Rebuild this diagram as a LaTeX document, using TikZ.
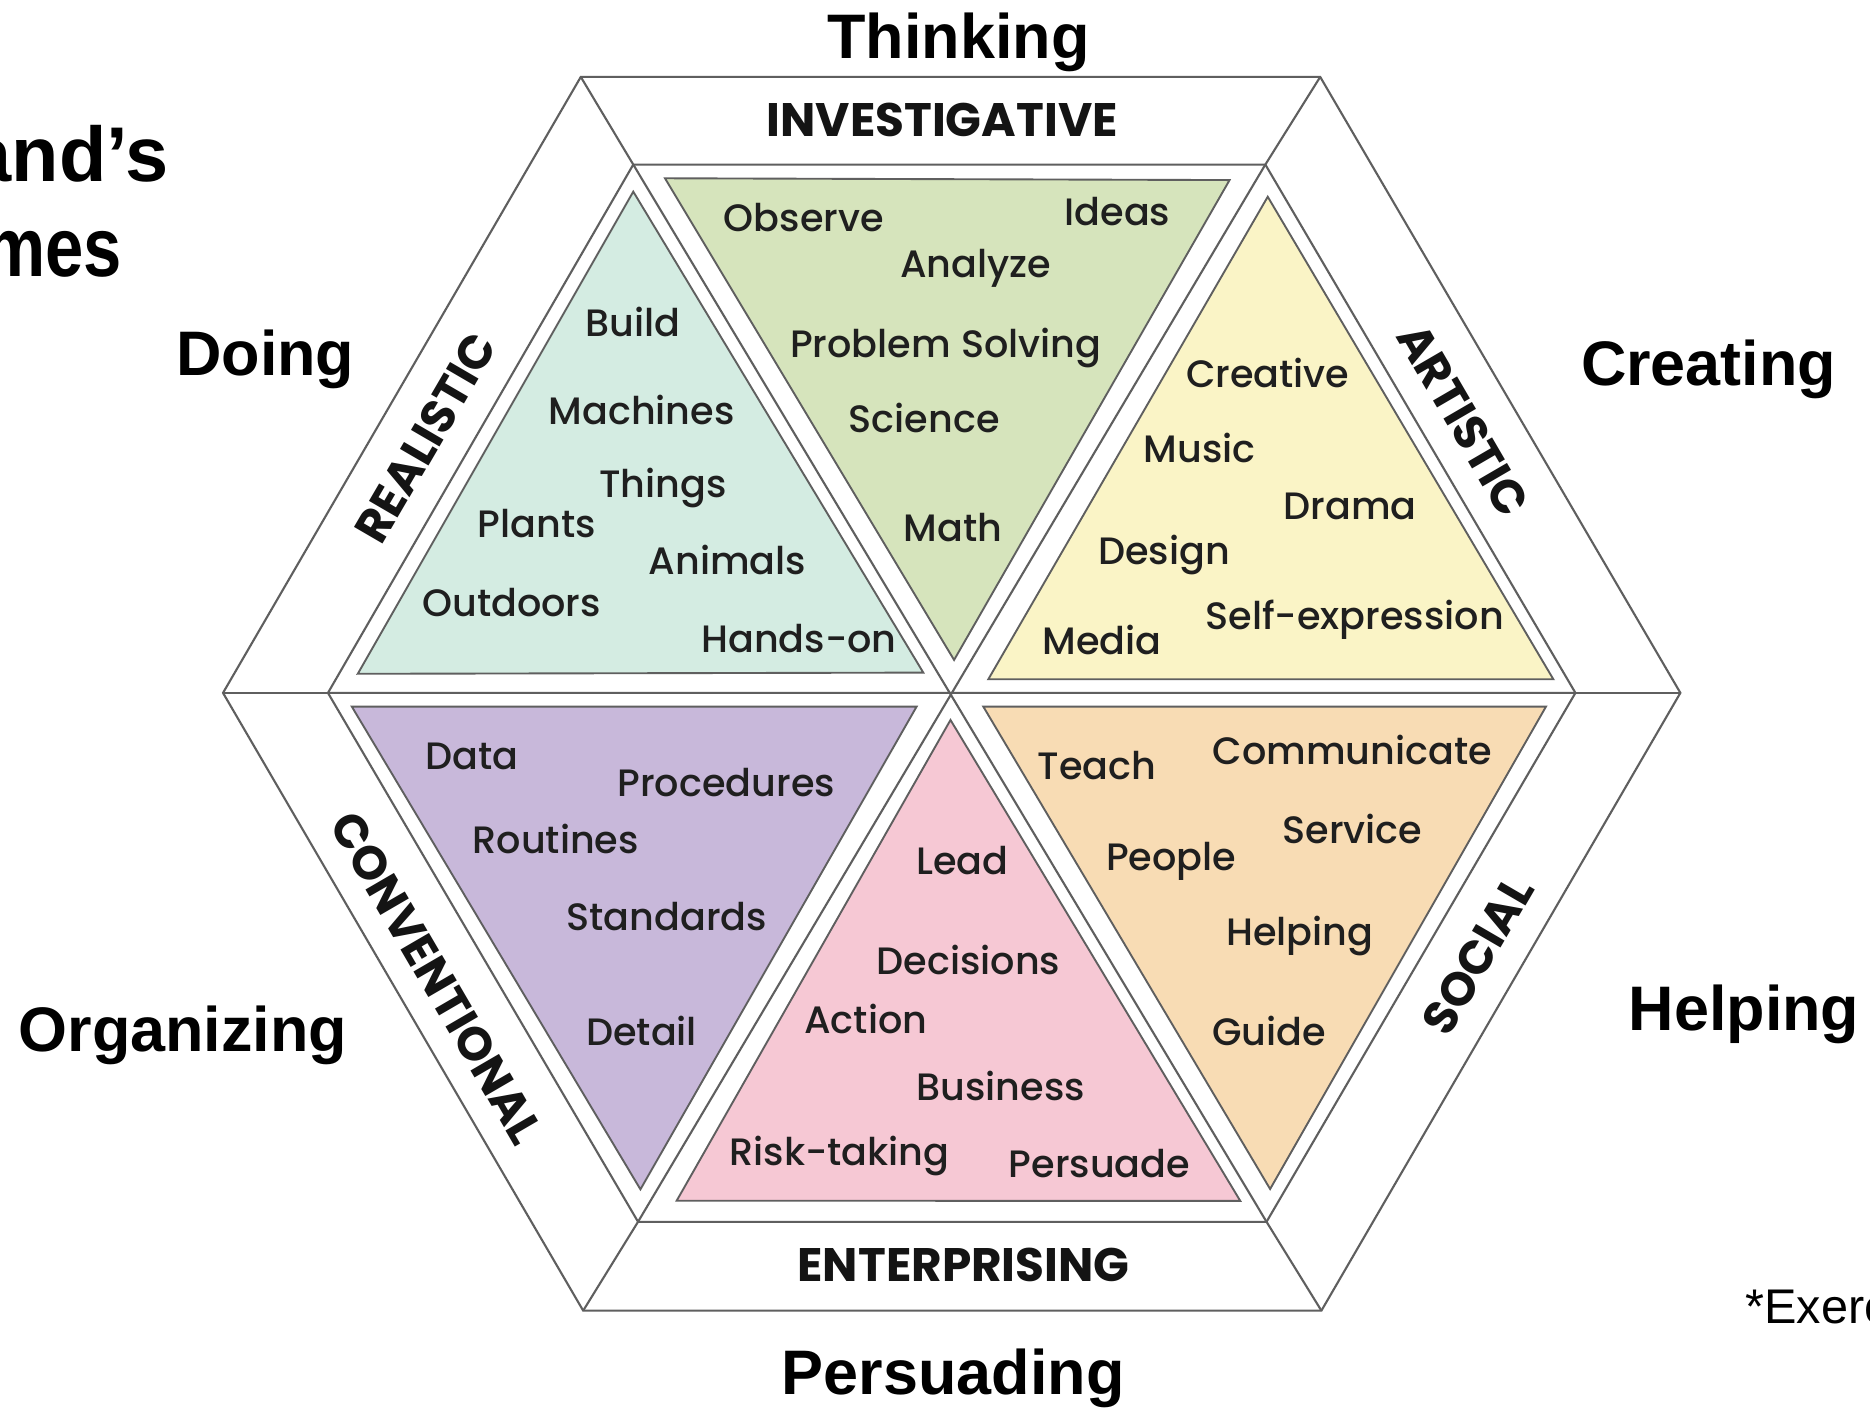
\documentclass[tikz,border=0pt]{standalone}
\usepackage{fontspec}
\setmainfont{Liberation Sans}
\newfontfamily\wordfont{Poppins Medium}
\newfontfamily\bandfont{Poppins}
\definecolor{cteal}{RGB}{212,236,226}
\definecolor{cgreen}{RGB}{214,228,188}
\definecolor{cyellow}{RGB}{250,244,198}
\definecolor{cpurple}{RGB}{200,184,218}
\definecolor{cpink}{RGB}{246,200,212}
\definecolor{corange}{RGB}{248,220,180}
\definecolor{cline}{RGB}{95,95,95}
\begin{document}
\begin{tikzpicture}[x=0.01cm,y=-0.01cm,
  hexline/.style={draw=cline, line width=0.5pt},
  tri/.style={draw=cline, line width=0.45pt},
  word/.style={font=\wordfont\fontsize{9.1}{11}\selectfont, text=black!88, anchor=base, inner sep=0pt},
  band/.style={font=\bandfont\bfseries\fontsize{11.2}{13}\selectfont, text=black!92, inner sep=0pt},
  theme/.style={font=\bfseries\fontsize{15}{18}\selectfont, anchor=base west, inner sep=0pt}]
\useasboundingbox (0,0) rectangle (1568,1183);
\fill[white] (0,0) rectangle (1568,1183);
% hexagon vertices
\coordinate (C) at (797,581);
\coordinate (O1) at (487,64.5);
\coordinate (O2) at (1107,64.5);
\coordinate (O3) at (1409,581);
\coordinate (O4) at (1108,1099);
\coordinate (O5) at (489,1099);
\coordinate (O6) at (187,581);
\coordinate (I1) at (531,138);
\coordinate (I2) at (1061,138);
\coordinate (I3) at (1321,581);
\coordinate (I4) at (1062,1024.5);
\coordinate (I5) at (535,1024.5);
\coordinate (I6) at (275,581);
% coloured triangles
\filldraw[tri, fill=cgreen] (557.6,149.5) -- (1031,151) -- (800,553.4) -- cycle;
\filldraw[tri, fill=cteal] (531,160.7) -- (774.2,564) -- (300,565) -- cycle;
\filldraw[tri, fill=cyellow] (1063,165) -- (1302.5,569.6) -- (828.7,569.6) -- cycle;
\filldraw[tri, fill=cpurple] (295,592.5) -- (768.6,592.5) -- (537,997.3) -- cycle;
\filldraw[tri, fill=cpink] (797,603.7) -- (1040,1007) -- (567.4,1006.8) -- cycle;
\filldraw[tri, fill=corange] (824.5,592.5) -- (1296.3,592.5) -- (1065,997) -- cycle;
% hexagon lines
\draw[hexline] (O1) -- (O2) -- (O3) -- (O4) -- (O5) -- (O6) -- cycle;
\draw[hexline] (I1) -- (I2) -- (I3) -- (I4) -- (I5) -- (I6) -- cycle;
\foreach \i in {1,...,6} {\draw[hexline] (O\i) -- (I\i);}
\draw[hexline] (I1) -- (I4) (I2) -- (I5) (I3) -- (I6);
% band labels
\node[band] (b-inv) at (790,101) {INVESTIGATIVE};
\node[band] (b-ent) at (808,1061) {ENTERPRISING};
\node[band, rotate=59.8] (b-rea) at (357,367) {REALISTIC};
\node[band, rotate=-59.8] (b-art) at (1227,352) {ARTISTIC};
\node[band, rotate=59.8] (b-soc) at (1239,801) {SOCIAL};
\node[band, rotate=-59.8] (b-con) at (366,820) {CONVENTIONAL};
% investigative words
\node[word] (w-observe) at (674,194) {Observe};
\node[word] (w-ideas) at (937,189) {Ideas};
\node[word] (w-analyze) at (818,233) {Analyze};
\node[word] (w-problem) at (793,300) {Problem Solving};
\node[word] (w-science) at (775,363) {Science};
\node[word] (w-math) at (799,454) {Math};
% realistic words
\node[word] (w-build) at (531,282) {Build};
\node[word] (w-machines) at (538,356) {Machines};
\node[word] (w-things) at (556,417) {Things};
\node[word] (w-plants) at (450,451) {Plants};
\node[word] (w-animals) at (610,482) {Animals};
\node[word] (w-outdoors) at (429,517) {Outdoors};
\node[word] (w-handson) at (670,547) {Hands-on};
% artistic words
\node[word] (w-creative) at (1063,325) {Creative};
\node[word] (w-music) at (1006,388) {Music};
\node[word] (w-drama) at (1132,436) {Drama};
\node[word] (w-design) at (976,473) {Design};
\node[word] (w-self) at (1136,528) {Self-expression};
\node[word] (w-media) at (924,549) {Media};
% conventional words
\node[word] (w-data) at (396,645) {Data};
\node[word] (w-procedures) at (609,668) {Procedures};
\node[word] (w-routines) at (466,716) {Routines};
\node[word] (w-standards) at (559,780) {Standards};
\node[word] (w-detail) at (538,877) {Detail};
% enterprising words
\node[word] (w-lead) at (807,733) {Lead};
\node[word] (w-decisions) at (812,817) {Decisions};
\node[word] (w-action) at (726,867) {Action};
\node[word] (w-business) at (839,923) {Business};
\node[word] (w-risk) at (704,977) {Risk-taking};
\node[word] (w-persuade) at (922,987) {Persuade};
% social words
\node[word] (w-teach) at (920,654) {Teach};
\node[word] (w-communicate) at (1134,641) {Communicate};
\node[word] (w-service) at (1134,707) {Service};
\node[word] (w-people) at (982,730) {People};
\node[word] (w-helpingw) at (1090,793) {Helping};
\node[word] (w-guide) at (1064,877) {Guide};
% themes
\node[theme] (t-thinking) at (693,49) {Thinking};
\node[theme] (t-doing) at (147,315) {Doing};
\node[theme] (t-creating) at (1325,323) {Creating};
\node[theme] (t-organizing) at (15,882) {Organizing};
\node[theme] (t-helping) at (1365,864) {Helping};
\node[theme] (t-persuading) at (655,1169) {Persuading};
% cut title
\node[theme, font=\bfseries\fontsize{18.5}{22}\selectfont, anchor=base east] (title1) at (142,152) {and’s};
\node[theme, font=\bfseries\fontsize{20}{24}\selectfont, anchor=base east] (title2) at (103,232) {\scalebox{0.82}[1]{mes}};
\node[font=\fontsize{11.6}{14}\selectfont, anchor=base west, inner sep=0pt] (note) at (1463,1110) {*Exerc};
\end{tikzpicture}
\end{document}
